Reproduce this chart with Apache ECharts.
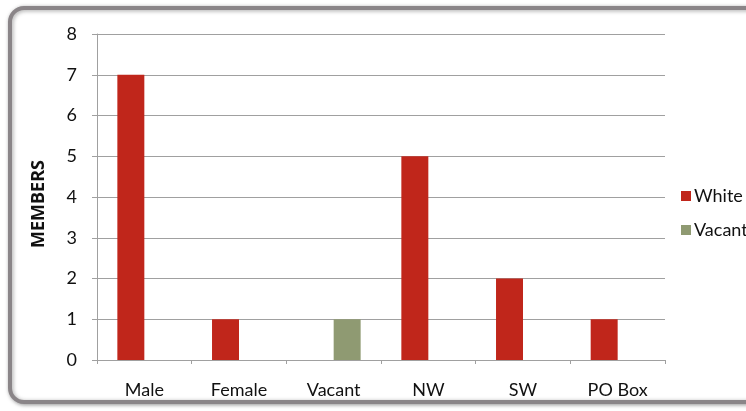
<!DOCTYPE html>
<html><head><meta charset="utf-8">
<script src="https://cdn.jsdelivr.net/npm/echarts@6/dist/echarts.min.js"></script>
<style>html,body{margin:0;padding:0;background:#fff}#c{width:746px;height:411px}</style>
</head><body><div id="c"></div>
<script>
const categories = ['Male', 'Female', 'Vacant', 'NW', 'SW', 'PO Box'];
const whiteValues = [7, 1, 0, 5, 2, 1];
const vacantValues = [0, 0, 1, 0, 0, 0];
const yTicks = [0, 1, 2, 3, 4, 5, 6, 7, 8];
const seriesNames = ['White', 'Vacant'];

const FONT = 'Lato';
const chart = echarts.init(document.getElementById('c'), null, {renderer: 'canvas'});
chart.setOption({
  animation: false,
  backgroundColor: '#fff',
  textStyle: {fontFamily: FONT},
  graphic: [{
    type: 'rect', z: -1, silent: true,
    shape: {x: 10, y: 8, width: 750, height: 394, r: 14},
    style: {fill: '#fff', stroke: '#8a8588', lineWidth: 4,
      shadowBlur: 4, shadowColor: 'rgba(0,0,0,0.35)', shadowOffsetX: 1, shadowOffsetY: 1}
  }],
  grid: {left: 97, right: 81, top: 34, bottom: 51, containLabel: false},
  legend: {
    orient: 'vertical', left: 676, top: 182, itemGap: 16,
    itemWidth: 10, itemHeight: 10, icon: 'rect',
    textStyle: {fontFamily: FONT, fontSize: 18, color: '#111', padding: [0, 0, 0, -2]},
    data: seriesNames
  },
  xAxis: {
    type: 'category', data: categories,
    axisLine: {lineStyle: {color: '#a0a0a0', width: 1}},
    axisTick: {show: true, length: 4, lineStyle: {color: '#a0a0a0'}},
    axisLabel: {fontFamily: FONT, fontSize: 18, color: '#111', margin: 21}
  },
  yAxis: {
    type: 'value', min: yTicks[0], max: yTicks[yTicks.length - 1], interval: 1,
    name: 'MEMBERS', nameLocation: 'middle', nameGap: 49, nameRotate: 90,
    nameTextStyle: {fontFamily: 'Open Sans', fontSize: 18, fontWeight: 'bold', color: '#111', padding: [0, 14, 0, 0]},
    axisLine: {show: true, lineStyle: {color: '#a0a0a0'}},
    axisTick: {show: true, length: 5, lineStyle: {color: '#a0a0a0'}},
    axisLabel: {fontFamily: FONT, fontSize: 18, color: '#111', margin: 20},
    splitLine: {lineStyle: {color: '#a0a0a0', width: 1}}
  },
  series: [
    {name: seriesNames[0], type: 'bar', data: whiteValues, barGap: '0%', barCategoryGap: '43%',
     itemStyle: {color: '#c0261b'}},
    {name: seriesNames[1], type: 'bar', data: vacantValues, barGap: '0%', barCategoryGap: '43%',
     itemStyle: {color: '#8f9a72'}}
  ]
});
</script></body></html>
